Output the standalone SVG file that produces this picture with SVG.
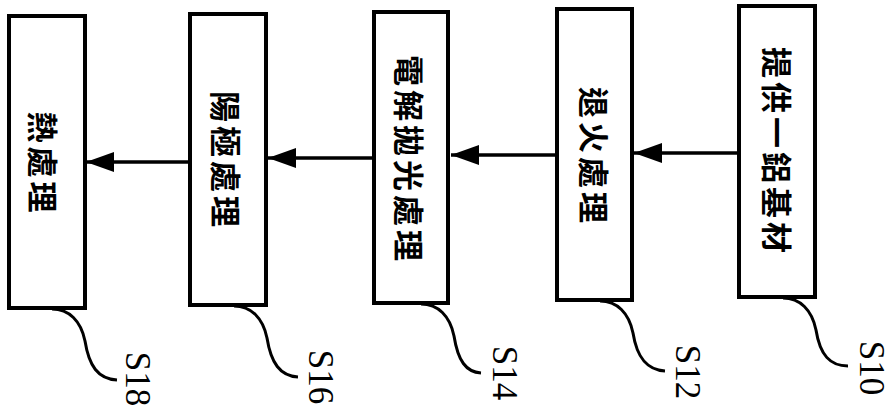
<svg xmlns="http://www.w3.org/2000/svg" width="895" height="414" viewBox="0 0 895 414">
<defs>
<style>
.box{fill:#fff;stroke:#000;stroke-width:4}
.lbl{font-family:"Noto Sans CJK TC","Noto Sans CJK SC",sans-serif;font-size:31px;font-weight:bold;fill:#000;letter-spacing:4px}
.conn{stroke:#000;stroke-width:3.5;fill:none}
.lead{stroke:#000;stroke-width:3;fill:none}
.ref{font-family:"Liberation Serif",serif;font-size:35px;fill:#000}
</style>
<marker id="ah" markerWidth="10" markerHeight="8" refX="9.5" refY="4" orient="auto" markerUnits="userSpaceOnUse" viewBox="0 0 10 8">
<path d="M0,0 L10,4 L0,8 Z" fill="#000"/>
</marker>
<marker id="arr" markerWidth="28" markerHeight="20" refX="28" refY="10" orient="auto" markerUnits="userSpaceOnUse" viewBox="0 0 28 20">
<path d="M0,0 L28,10 L0,20 Z" fill="#000"/>
</marker>
</defs>
<rect width="895" height="414" fill="#fff"/>
<g id="connectors">
<line class="conn" x1="739" y1="153" x2="634" y2="153" marker-end="url(#arr)"/>
<line class="conn" x1="557" y1="155" x2="451" y2="155" marker-end="url(#arr)"/>
<line class="conn" x1="374" y1="158" x2="268" y2="158" marker-end="url(#arr)"/>
<line class="conn" x1="190" y1="162" x2="86" y2="162" marker-end="url(#arr)"/>
<path class="lead" d="M783 298 C800 298 812 310 816 330 C820 355 830 366 848 366"/>
<path class="lead" d="M600 301 C617 301 629 313 633 333 C637 358 647 370 665 371"/>
<path class="lead" d="M421 304 C438 304 450 316 454 336 C458 361 466 372 481 373"/>
<path class="lead" d="M234 306 C251 306 263 318 267 338 C271 363 280 376 298 377"/>
<path class="lead" d="M52 309 C69 309 81 321 85 341 C89 366 98 379 117 380"/>
</g>
<g id="S10">
<rect class="box" x="739" y="6" width="76" height="291"/>
<text class="lbl" transform="translate(778,152) rotate(90)" text-anchor="middle" dominant-baseline="central">提供一鋁基材</text>
<text class="ref" transform="translate(871,368) rotate(90)" text-anchor="middle" dominant-baseline="central">S10</text>
</g>
<g id="S12">
<rect class="box" x="557" y="9" width="75" height="291"/>
<text class="lbl" transform="translate(595,157) rotate(90)" text-anchor="middle" dominant-baseline="central">退火處理</text>
<text class="ref" transform="translate(687,372) rotate(90)" text-anchor="middle" dominant-baseline="central">S12</text>
</g>
<g id="S14">
<rect class="box" x="374" y="12" width="74" height="291"/>
<text class="lbl" transform="translate(410,160) rotate(90)" text-anchor="middle" dominant-baseline="central">電解拋光處理</text>
<text class="ref" transform="translate(504,373) rotate(90)" text-anchor="middle" dominant-baseline="central">S14</text>
</g>
<g id="S16">
<rect class="box" x="190" y="14" width="76" height="291"/>
<text class="lbl" transform="translate(227,161) rotate(90)" text-anchor="middle" dominant-baseline="central">陽極處理</text>
<text class="ref" transform="translate(320,377) rotate(90)" text-anchor="middle" dominant-baseline="central">S16</text>
</g>
<g id="S18">
<rect class="box" x="9" y="16" width="76" height="292"/>
<text class="lbl" transform="translate(44,164) rotate(90)" text-anchor="middle" dominant-baseline="central">熱處理</text>
<text class="ref" transform="translate(137,379) rotate(90)" text-anchor="middle" dominant-baseline="central">S18</text>
</g>
</svg>
